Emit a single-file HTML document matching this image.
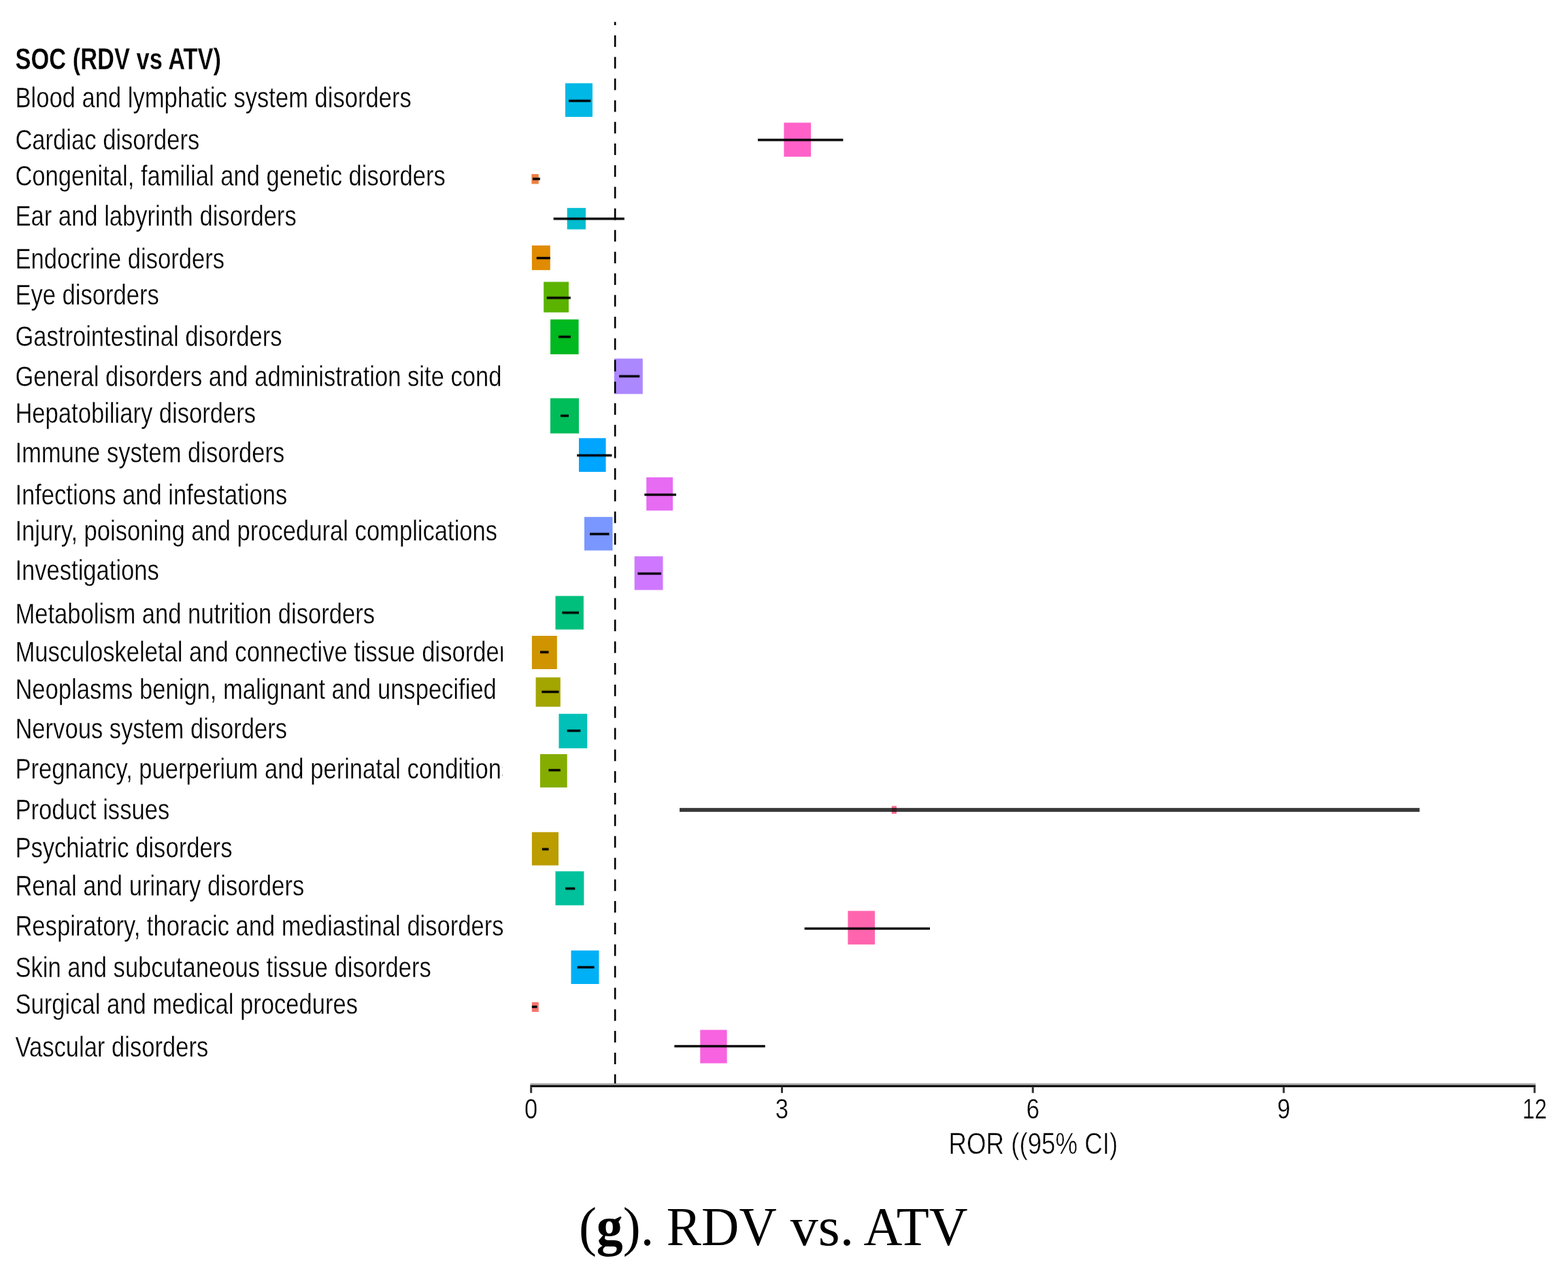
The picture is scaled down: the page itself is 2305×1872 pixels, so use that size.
<!DOCTYPE html>
<html><head><meta charset="utf-8"><title>RDV vs ATV forest plot</title>
<style>
html,body{margin:0;padding:0;background:#fff;}
svg{display:block;}
text{font-family:"Liberation Sans",sans-serif;fill:#000;}
.cap{font-family:"Liberation Serif",serif;}
</style></head><body>
<svg xmlns="http://www.w3.org/2000/svg" width="2305" height="1872" viewBox="0 0 2305 1872">
<rect x="0" y="0" width="2305" height="1872" fill="#fff"/>
<defs><clipPath id="lc"><rect x="0" y="0" width="739" height="1872"/></clipPath></defs>

<g clip-path="url(#lc)">
<g transform="translate(22.4,0) scale(0.814,1)">
<text x="0" y="102.2" font-size="44.5" font-weight="bold" transform="scale(0.952,1)" stroke="#fff" stroke-width="0.3">SOC (RDV vs ATV)</text>
<text x="0" y="157.6" font-size="42.5" stroke="#fff" stroke-width="0.35">Blood and lymphatic system disorders</text>
<text x="0" y="220.3" font-size="42.5" stroke="#fff" stroke-width="0.35">Cardiac disorders</text>
<text x="0" y="273.3" font-size="42.5" stroke="#fff" stroke-width="0.35">Congenital, familial and genetic disorders</text>
<text x="0" y="331.6" font-size="42.5" stroke="#fff" stroke-width="0.35">Ear and labyrinth disorders</text>
<text x="0" y="395" font-size="42.5" stroke="#fff" stroke-width="0.35">Endocrine disorders</text>
<text x="0" y="448" font-size="42.5" stroke="#fff" stroke-width="0.35">Eye disorders</text>
<text x="0" y="509.5" font-size="42.5" stroke="#fff" stroke-width="0.35">Gastrointestinal disorders</text>
<text x="0" y="568.3" font-size="42.5" stroke="#fff" stroke-width="0.35">General disorders and administration site conditions</text>
<text x="0" y="622.4" font-size="42.5" stroke="#fff" stroke-width="0.35">Hepatobiliary disorders</text>
<text x="0" y="680" font-size="42.5" stroke="#fff" stroke-width="0.35">Immune system disorders</text>
<text x="0" y="741.6" font-size="42.5" stroke="#fff" stroke-width="0.35">Infections and infestations</text>
<text x="0" y="795.3" font-size="42.5" stroke="#fff" stroke-width="0.35">Injury, poisoning and procedural complications</text>
<text x="0" y="852.9" font-size="42.5" stroke="#fff" stroke-width="0.35">Investigations</text>
<text x="0" y="917.2" font-size="42.5" stroke="#fff" stroke-width="0.35">Metabolism and nutrition disorders</text>
<text x="0" y="973.2" font-size="42.5" stroke="#fff" stroke-width="0.35">Musculoskeletal and connective tissue disorders</text>
<text x="0" y="1028.5" font-size="42.5" stroke="#fff" stroke-width="0.35">Neoplasms benign, malignant and unspecified</text>
<text x="0" y="1086.5" font-size="42.5" stroke="#fff" stroke-width="0.35">Nervous system disorders</text>
<text x="0" y="1144.6" font-size="42.5" stroke="#fff" stroke-width="0.35">Pregnancy, puerperium and perinatal conditions</text>
<text x="0" y="1205.2" font-size="42.5" stroke="#fff" stroke-width="0.35">Product issues</text>
<text x="0" y="1261" font-size="42.5" stroke="#fff" stroke-width="0.35">Psychiatric disorders</text>
<text x="0" y="1317.5" font-size="42.5" stroke="#fff" stroke-width="0.35">Renal and urinary disorders</text>
<text x="0" y="1376.3" font-size="42.5" stroke="#fff" stroke-width="0.35">Respiratory, thoracic and mediastinal disorders</text>
<text x="0" y="1437.3" font-size="42.5" stroke="#fff" stroke-width="0.35">Skin and subcutaneous tissue disorders</text>
<text x="0" y="1490.8" font-size="42.5" stroke="#fff" stroke-width="0.35">Surgical and medical procedures</text>
<text x="0" y="1553.7" font-size="42.5" stroke="#fff" stroke-width="0.35">Vascular disorders</text>
</g></g>
<rect x="831" y="122.4" width="40.0" height="49.5" fill="#00B8E5"/>
<rect x="836" y="145.70" width="32.3" height="5.2" fill="#000" fill-opacity="0.22"/>
<rect x="836" y="146.80" width="32.3" height="3" fill="#000"/>
<rect x="1152.4" y="180.4" width="39.7" height="50.1" fill="#FF61C9"/>
<rect x="1114" y="203.20" width="125.4" height="5.2" fill="#000" fill-opacity="0.22"/>
<rect x="1114" y="204.30" width="125.4" height="3" fill="#000"/>
<rect x="781.4" y="256" width="10.4" height="14.5" fill="#ED8141"/>
<rect x="783" y="260.50" width="11.0" height="5.2" fill="#000" fill-opacity="0.22"/>
<rect x="783" y="261.60" width="11.0" height="3" fill="#000"/>
<rect x="833.7" y="305.8" width="27.3" height="31.5" fill="#00BDD0"/>
<rect x="813.7" y="319.10" width="104.1" height="5.2" fill="#000" fill-opacity="0.22"/>
<rect x="813.7" y="320.20" width="104.1" height="3" fill="#000"/>
<rect x="781.9" y="361" width="26.9" height="36.2" fill="#E08B00"/>
<rect x="788.8" y="376.90" width="20.0" height="5.2" fill="#000" fill-opacity="0.22"/>
<rect x="788.8" y="378.00" width="20.0" height="3" fill="#000"/>
<rect x="799.2" y="414.5" width="36.8" height="44.9" fill="#5BB300"/>
<rect x="803.8" y="435.40" width="35.0" height="5.2" fill="#000" fill-opacity="0.22"/>
<rect x="803.8" y="436.50" width="35.0" height="3" fill="#000"/>
<rect x="809.1" y="469.7" width="41.5" height="51.3" fill="#00B81F"/>
<rect x="821" y="492.70" width="17.8" height="5.2" fill="#000" fill-opacity="0.22"/>
<rect x="821" y="493.80" width="17.8" height="3" fill="#000"/>
<rect x="902.9" y="527.3" width="41.9" height="52.1" fill="#AC88FF"/>
<rect x="910.2" y="550.70" width="30.0" height="5.2" fill="#000" fill-opacity="0.22"/>
<rect x="910.2" y="551.80" width="30.0" height="3" fill="#000"/>
<rect x="809" y="585.6" width="42.0" height="51.8" fill="#00BC59"/>
<rect x="824" y="608.80" width="12.0" height="5.2" fill="#000" fill-opacity="0.22"/>
<rect x="824" y="609.90" width="12.0" height="3" fill="#000"/>
<rect x="851" y="644.3" width="39.6" height="49.6" fill="#00A5FF"/>
<rect x="848.2" y="667.10" width="51.2" height="5.2" fill="#000" fill-opacity="0.22"/>
<rect x="848.2" y="668.20" width="51.2" height="3" fill="#000"/>
<rect x="950.2" y="701.9" width="38.9" height="48.9" fill="#E76BF3"/>
<rect x="947.4" y="724.90" width="46.6" height="5.2" fill="#000" fill-opacity="0.22"/>
<rect x="947.4" y="726.00" width="46.6" height="3" fill="#000"/>
<rect x="859" y="760.2" width="41.5" height="49.3" fill="#7997FF"/>
<rect x="867" y="782.70" width="28.5" height="5.2" fill="#000" fill-opacity="0.22"/>
<rect x="867" y="783.80" width="28.5" height="3" fill="#000"/>
<rect x="932.7" y="818.1" width="41.8" height="49.5" fill="#CF78FF"/>
<rect x="937.5" y="840.90" width="34.5" height="5.2" fill="#000" fill-opacity="0.22"/>
<rect x="937.5" y="842.00" width="34.5" height="3" fill="#000"/>
<rect x="816.5" y="876.4" width="41.4" height="49.3" fill="#00BF7D"/>
<rect x="826.4" y="898.40" width="24.6" height="5.2" fill="#000" fill-opacity="0.22"/>
<rect x="826.4" y="899.50" width="24.6" height="3" fill="#000"/>
<rect x="781.9" y="935" width="36.9" height="49.0" fill="#CF9400"/>
<rect x="794" y="956.40" width="12.5" height="5.2" fill="#000" fill-opacity="0.22"/>
<rect x="794" y="957.50" width="12.5" height="3" fill="#000"/>
<rect x="787.6" y="996.2" width="36.2" height="43.1" fill="#A3A500"/>
<rect x="796.4" y="1014.80" width="25.1" height="5.2" fill="#000" fill-opacity="0.22"/>
<rect x="796.4" y="1015.90" width="25.1" height="3" fill="#000"/>
<rect x="821.5" y="1049.7" width="41.7" height="50.7" fill="#00C0B8"/>
<rect x="833.7" y="1072.00" width="19.6" height="5.2" fill="#000" fill-opacity="0.22"/>
<rect x="833.7" y="1073.10" width="19.6" height="3" fill="#000"/>
<rect x="794" y="1109" width="39.7" height="49.0" fill="#85AD00"/>
<rect x="806.5" y="1130.00" width="17.3" height="5.2" fill="#000" fill-opacity="0.22"/>
<rect x="806.5" y="1131.10" width="17.3" height="3" fill="#000"/>
<rect x="1310.8" y="1185.2" width="7.2" height="11.5" fill="#FF6C90"/>
<rect x="999" y="1188.15" width="1087.8" height="5.7" fill="#383838"/>
<rect x="1310.8" y="1188.15" width="7.2" height="5.7" fill="#3a1e26"/>
<rect x="781.9" y="1223.7" width="39.1" height="48.9" fill="#BB9D00"/>
<rect x="796.9" y="1246.20" width="9.6" height="5.2" fill="#000" fill-opacity="0.22"/>
<rect x="796.9" y="1247.30" width="9.6" height="3" fill="#000"/>
<rect x="816.5" y="1281.3" width="41.9" height="50.0" fill="#00C19C"/>
<rect x="831" y="1304.10" width="14.3" height="5.2" fill="#000" fill-opacity="0.22"/>
<rect x="831" y="1305.20" width="14.3" height="3" fill="#000"/>
<rect x="1246.4" y="1339.5" width="39.7" height="49.4" fill="#FF65AE"/>
<rect x="1182.7" y="1362.90" width="184.3" height="5.2" fill="#000" fill-opacity="0.22"/>
<rect x="1182.7" y="1364.00" width="184.3" height="3" fill="#000"/>
<rect x="839.5" y="1397.7" width="41.0" height="49.3" fill="#00B0F6"/>
<rect x="848.7" y="1419.80" width="24.9" height="5.2" fill="#000" fill-opacity="0.22"/>
<rect x="848.7" y="1420.90" width="24.9" height="3" fill="#000"/>
<rect x="781.9" y="1473.7" width="9.9" height="14.3" fill="#F8766D"/>
<rect x="781.9" y="1478.00" width="7.6" height="5.2" fill="#000" fill-opacity="0.22"/>
<rect x="781.9" y="1479.10" width="7.6" height="3" fill="#000"/>
<rect x="1029.3" y="1514.5" width="39.3" height="49.1" fill="#F763E0"/>
<rect x="991.4" y="1535.90" width="133.3" height="5.2" fill="#000" fill-opacity="0.22"/>
<rect x="991.4" y="1537.00" width="133.3" height="3" fill="#000"/>
<line x1="904.2" y1="32.2" x2="904.2" y2="1594" stroke="#000" stroke-width="2.6" stroke-dasharray="17 14.83" stroke-dashoffset="12.13"/>
<rect x="779.4" y="1593.2" width="1478" height="2.6" fill="#9e9e9e"/>
<rect x="779.4" y="1595.8" width="1478" height="2.9" fill="#000"/>
<rect x="779.2" y="1598.7" width="3" height="8.6" fill="#333"/>
<text x="780.7" y="1645" font-size="42.5" text-anchor="middle" stroke="#fff" stroke-width="0.4" transform="translate(780.7,0) scale(0.814,1) translate(-780.7,0)">0</text>
<rect x="1148.0" y="1598.7" width="3" height="8.6" fill="#333"/>
<text x="1149.5" y="1645" font-size="42.5" text-anchor="middle" stroke="#fff" stroke-width="0.4" transform="translate(1149.5,0) scale(0.814,1) translate(-1149.5,0)">3</text>
<rect x="1516.8" y="1598.7" width="3" height="8.6" fill="#333"/>
<text x="1518.3" y="1645" font-size="42.5" text-anchor="middle" stroke="#fff" stroke-width="0.4" transform="translate(1518.3,0) scale(0.814,1) translate(-1518.3,0)">6</text>
<rect x="1885.6" y="1598.7" width="3" height="8.6" fill="#333"/>
<text x="1887.1" y="1645" font-size="42.5" text-anchor="middle" stroke="#fff" stroke-width="0.4" transform="translate(1887.1,0) scale(0.814,1) translate(-1887.1,0)">9</text>
<rect x="2254.4" y="1598.7" width="3" height="8.6" fill="#333"/>
<text x="2255.9" y="1645" font-size="42.5" text-anchor="middle" stroke="#fff" stroke-width="0.4" transform="translate(2255.9,0) scale(0.76,1) translate(-2255.9,0)">12</text>
<text x="0" y="1697.5" font-size="44.5" stroke="#fff" stroke-width="0.55" transform="translate(1394.5,0) scale(0.825,1)">ROR ((95% CI)</text>
<g class="capg">
<text class="cap" x="0" y="1831" font-size="79.5" transform="translate(850.88,0) scale(0.9806,1)">(<tspan font-weight="bold">g</tspan>).</text>
<text class="cap" x="0" y="1831" font-size="79.5" transform="translate(979.87,0) scale(0.9648,1)">RDV</text>
<text class="cap" x="0" y="1831" font-size="79.5" transform="translate(1161.70,0) scale(1.0318,1)">vs.</text>
<text class="cap" x="0" y="1831" font-size="79.5" transform="translate(1269.51,0) scale(0.9902,1)">ATV</text>
</g>
</svg></body></html>
